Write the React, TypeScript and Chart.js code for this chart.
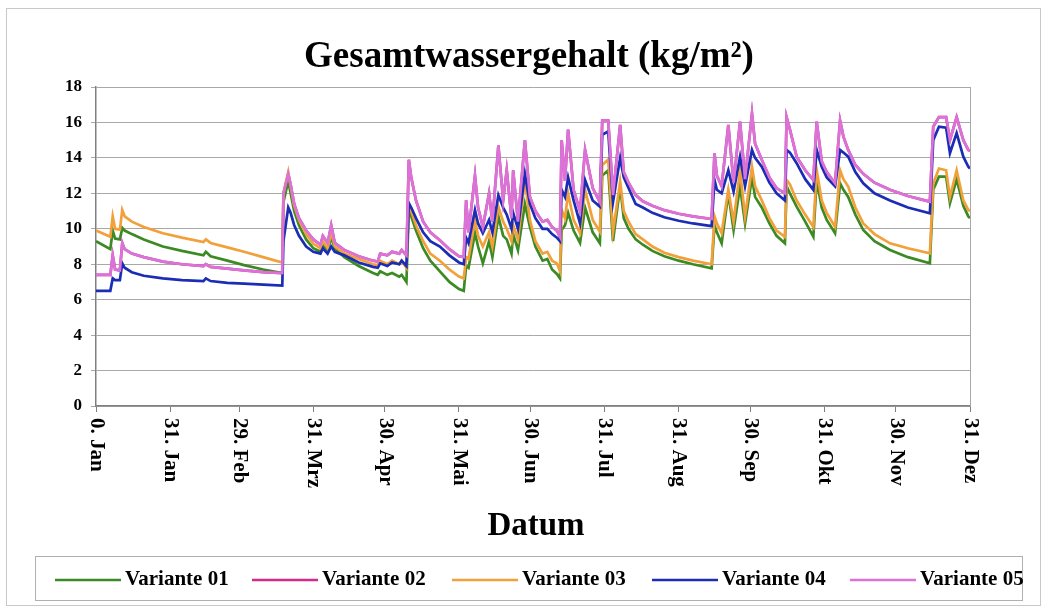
import React, { useEffect, useRef } from "react";
import { Chart, registerables } from "chart.js";

Chart.register(...registerables);

// Tage seit 0. Jan (Schaltjahr, 366 Tage)
const days = [
  0, 6, 7, 8, 10, 11, 12, 15, 20, 28,
  36, 45, 46, 48, 55, 62, 70, 78, 78.5, 80.5,
  81.5, 83, 85, 88, 91, 94, 95, 97, 98.5, 100,
  104, 110, 116, 118, 119, 122, 124, 127, 128, 130,
  131, 132, 134, 137, 140, 144, 148, 152, 154, 155,
  156, 158.7, 160, 162, 164.6, 166, 168.5, 170.5, 172, 174,
  174.7, 176.7, 179.6, 181.7, 184, 187, 189, 191, 193, 194.3,
  195, 196.4, 197.7, 200, 202.7, 204.8, 208, 211, 212, 214.5,
  216.5, 219.5, 221, 223, 226, 229, 233, 238, 244, 250,
  257.8, 259, 260, 262, 264.8, 267, 269.7, 271.8, 274.7, 276,
  278.8, 282, 285, 288.5, 289.2, 290.6, 293.4, 297, 300.4, 301.8,
  303.9, 306, 309.5, 311.6, 313, 315, 318, 321.3, 326, 332.5,
  340, 349.2, 350.6, 353, 356, 357.6, 360.4, 363.2, 365.3, 366,
];

const variante01 = [
  9.3, 8.85, 9.9, 9.45, 9.4, 10.05, 9.9, 9.7, 9.4, 9.0,
  8.75, 8.5, 8.7, 8.45, 8.2, 7.95, 7.7, 7.5, 11.5, 12.7,
  12.0, 11.0, 10.2, 9.4, 8.9, 8.7, 9.1, 8.8, 9.5, 8.9,
  8.4, 7.9, 7.5, 7.4, 7.6, 7.4, 7.5, 7.3, 7.4, 7.0,
  11.1, 10.7, 9.9, 8.9, 8.2, 7.6, 7.0, 6.6, 6.5, 7.9,
  7.8, 9.76, 9.0, 8.05, 9.3, 8.4, 10.7, 9.6, 9.4, 8.6,
  9.7, 8.8, 11.4, 10.1, 9.0, 8.2, 8.3, 7.7, 7.45, 7.2,
  9.93, 10.2, 10.9, 9.9, 9.2, 11.2, 9.8, 9.18, 13.0, 13.3,
  9.3, 12.4, 10.6, 10.0, 9.4, 9.1, 8.75, 8.45, 8.2, 8.0,
  7.77, 10.2, 9.8, 9.18, 12.0, 9.93, 12.4, 10.3, 12.9, 11.8,
  11.2, 10.3, 9.6, 9.18, 12.4, 12.0, 11.25, 10.4, 9.55, 12.75,
  11.2, 10.5, 9.75, 12.57, 12.2, 11.8, 10.8, 9.93, 9.3, 8.8,
  8.4, 8.05, 12.2, 12.94, 12.94, 11.44, 12.8, 11.3, 10.7, 10.6,
];

const variante02 = [
  7.4, 7.4, 8.5, 7.7, 7.65, 9.2, 8.85, 8.6, 8.4, 8.15,
  8.0, 7.9, 8.0, 7.85, 7.75, 7.65, 7.55, 7.5, 12.0, 13.1,
  12.5, 11.4, 10.6, 9.9, 9.4, 9.1, 9.6, 9.2, 10.2, 9.2,
  8.8, 8.45, 8.2, 8.15, 8.6, 8.5, 8.7, 8.6, 8.8, 8.5,
  13.9, 12.9, 11.6, 10.4, 9.8, 9.35, 8.85, 8.45, 8.4, 11.6,
  9.8, 13.0, 11.2, 10.1, 12.0, 10.4, 14.7, 11.6, 13.3, 10.6,
  13.3, 10.4, 15.0, 11.8, 11.0, 10.4, 10.5, 10.1, 9.9, 9.55,
  15.0, 12.7, 15.6, 12.2, 11.0, 14.45, 12.3, 11.5, 16.1, 16.1,
  11.9, 15.86, 13.2, 12.6, 11.9, 11.55, 11.3, 11.05, 10.85, 10.7,
  10.55, 14.26, 13.0, 12.4, 15.86, 12.6, 16.05, 12.8, 16.5, 14.8,
  13.9, 12.9, 12.3, 12.0, 16.3, 15.6, 14.07, 13.3, 12.75, 16.05,
  13.8, 13.2, 12.57, 16.1, 15.2, 14.45, 13.6, 13.1, 12.6, 12.2,
  11.85, 11.53, 15.76, 16.3, 16.3, 15.0, 16.3, 15.0, 14.45, 14.4,
];

const variante03 = [
  9.9, 9.55, 10.7, 10.0, 9.95, 11.06, 10.7, 10.4, 10.1, 9.75,
  9.5, 9.25, 9.4, 9.2, 8.95, 8.7, 8.4, 8.1, 12.0, 13.2,
  12.4, 11.3, 10.5, 9.7, 9.15, 8.9, 9.3, 8.9, 9.8, 9.0,
  8.6, 8.3, 8.0, 7.95, 8.2, 8.0, 8.2, 8.0, 8.2, 7.8,
  11.3, 11.0, 10.2, 9.3, 8.6, 8.2, 7.7, 7.3, 7.2, 8.4,
  8.3, 10.5, 9.6, 9.0, 9.8, 9.0, 11.25, 10.4, 10.0, 9.3,
  10.2, 9.4, 12.75, 10.5, 9.3, 8.6, 8.7, 8.2, 8.05, 7.6,
  11.06, 10.6, 12.0, 10.5, 9.76, 12.2, 10.5, 9.84, 13.6, 13.9,
  9.84, 12.66, 11.0, 10.4, 9.7, 9.4, 9.0, 8.65, 8.4, 8.2,
  8.0, 10.7, 10.3, 9.75, 12.2, 10.4, 13.3, 10.7, 13.5, 12.4,
  11.6, 10.6, 9.9, 9.55, 12.75, 12.5, 11.6, 10.8, 10.1, 13.3,
  11.6, 10.9, 10.1, 13.3, 12.8, 12.38, 11.2, 10.3, 9.7, 9.18,
  8.9, 8.62, 12.57, 13.4, 13.3, 11.8, 13.3, 11.6, 11.06, 11.0,
];

const variante04 = [
  6.5, 6.5, 7.2, 7.1, 7.1, 8.05, 7.8, 7.55, 7.35, 7.2,
  7.1, 7.05, 7.2, 7.05, 6.95, 6.9, 6.85, 6.8, 9.3, 11.2,
  10.9, 10.2, 9.6, 9.0, 8.7, 8.6, 8.9, 8.6, 9.0, 8.7,
  8.5, 8.1, 7.85, 7.8, 8.05, 7.9, 8.1, 8.0, 8.2, 7.9,
  11.45, 11.2, 10.6, 9.8, 9.3, 9.0, 8.5, 8.1, 8.0, 9.5,
  9.2, 11.06, 10.3, 9.75, 10.5, 9.8, 11.9, 11.2, 10.8, 10.0,
  10.9, 10.0, 13.1, 11.4, 10.6, 10.0, 10.0, 9.7, 9.5, 9.3,
  12.2, 11.8, 12.9, 11.6, 10.3, 12.75, 11.6, 11.25, 15.3, 15.5,
  11.5, 14.0, 12.9, 12.3, 11.4, 11.2, 10.9, 10.65, 10.45, 10.3,
  10.15, 12.75, 12.2, 12.0, 13.3, 12.1, 14.07, 12.4, 14.45, 14.0,
  13.5, 12.6, 12.0, 11.6, 14.45, 14.3, 13.7, 12.8, 12.2, 14.45,
  13.5, 12.9, 12.4, 14.45, 14.3, 14.07, 13.2, 12.57, 12.0, 11.6,
  11.2, 10.87, 15.0, 15.76, 15.7, 14.26, 15.4, 14.07, 13.5, 13.4,
];

const variante05 = [
  7.4, 7.4, 8.5, 7.7, 7.65, 9.2, 8.85, 8.6, 8.4, 8.15,
  8.0, 7.9, 8.0, 7.85, 7.75, 7.65, 7.55, 7.5, 12.0, 13.1,
  12.5, 11.4, 10.6, 9.9, 9.4, 9.1, 9.6, 9.2, 10.2, 9.2,
  8.8, 8.45, 8.2, 8.15, 8.6, 8.5, 8.7, 8.6, 8.8, 8.5,
  13.9, 12.9, 11.6, 10.4, 9.8, 9.35, 8.85, 8.45, 8.4, 11.6,
  9.8, 13.0, 11.2, 10.1, 12.0, 10.4, 14.7, 11.6, 13.3, 10.6,
  13.3, 10.4, 15.0, 11.8, 11.0, 10.4, 10.5, 10.1, 9.9, 9.55,
  15.0, 12.7, 15.6, 12.2, 11.0, 14.45, 12.3, 11.5, 16.1, 16.1,
  11.9, 15.86, 13.2, 12.6, 11.9, 11.55, 11.3, 11.05, 10.85, 10.7,
  10.55, 14.26, 13.0, 12.4, 15.86, 12.6, 16.05, 12.8, 16.5, 14.8,
  13.9, 12.9, 12.3, 12.0, 16.3, 15.6, 14.07, 13.3, 12.75, 16.05,
  13.8, 13.2, 12.57, 16.1, 15.2, 14.45, 13.6, 13.1, 12.6, 12.2,
  11.85, 11.53, 15.76, 16.3, 16.3, 15.0, 16.3, 15.0, 14.45, 14.4,
];

const seriesNames = ["Variante 01", "Variante 02", "Variante 03", "Variante 04", "Variante 05"];
const seriesColors = ["#3B8A24", "#D42A8C", "#F2A03A", "#1C2DB5", "#DA72D8"];

const tickDays = [0, 31, 60, 91, 121, 152, 182, 213, 244, 274, 305, 335, 366];
const tickLabels = [
  "0. Jan", "31. Jan", "29. Feb", "31. Mrz", "30. Apr", "31. Mai", "30. Jun",
  "31. Jul", "31. Aug", "30. Sep", "31. Okt", "30. Nov", "31. Dez",
];

const chartTitle = "Gesamtwassergehalt (kg/m²)";
const xAxisTitle = "Datum";

const FONT = '"Liberation Serif", "Times New Roman", serif';

const decorPlugin = {
  id: "decor",
  beforeDraw(chart: any) {
    const { ctx, width, height } = chart;
    ctx.save();
    ctx.fillStyle = "#ffffff";
    ctx.fillRect(0, 0, width, height);
    ctx.restore();
  },
  beforeDatasetsDraw(chart: any) {
    const { ctx, chartArea: a } = chart;
    ctx.save();
    ctx.strokeStyle = "#A8A8A8";
    ctx.lineWidth = 1;
    ctx.beginPath();
    ctx.moveTo(Math.round(a.right) + 0.5, a.top);
    ctx.lineTo(Math.round(a.right) + 0.5, a.bottom);
    ctx.stroke();
    ctx.restore();
  },
  afterDraw(chart: any) {
    const { ctx, scales } = chart;
    ctx.save();
    ctx.fillStyle = "#000";

    // title
    ctx.font = `bold 37px ${FONT}`;
    ctx.textAlign = "center";
    ctx.textBaseline = "alphabetic";
    ctx.fillText(chartTitle, 529, 67);

    // x tick labels (rotated, reading top to bottom)
    ctx.font = `bold 21px ${FONT}`;
    tickDays.forEach((d, i) => {
      const x = scales.x.getPixelForValue(d);
      ctx.save();
      ctx.translate(x, 418);
      ctx.rotate(Math.PI / 2);
      ctx.textAlign = "left";
      ctx.textBaseline = "middle";
      ctx.fillText(tickLabels[i], 0, 0);
      ctx.restore();
    });

    // axis title
    ctx.font = `bold 33px ${FONT}`;
    ctx.textAlign = "center";
    ctx.textBaseline = "alphabetic";
    ctx.fillText(xAxisTitle, 536, 535);

    // legend
    ctx.strokeStyle = "#B0B0B0";
    ctx.lineWidth = 1;
    ctx.strokeRect(35.5, 556.5, 987, 44);
    const starts = [55, 252, 452, 652, 850];
    ctx.font = `bold 21px ${FONT}`;
    ctx.textAlign = "left";
    ctx.textBaseline = "middle";
    chart.data.datasets.forEach((ds: any, i: number) => {
      const x0 = starts[i];
      ctx.strokeStyle = ds.borderColor;
      ctx.lineWidth = 2.5;
      ctx.beginPath();
      ctx.moveTo(x0, 580);
      ctx.lineTo(x0 + 66, 580);
      ctx.stroke();
      ctx.fillStyle = "#000";
      ctx.fillText(ds.label, x0 + 70, 580);
    });

    // outer frame
    ctx.strokeStyle = "#C8C8C8";
    ctx.lineWidth = 1;
    ctx.strokeRect(6.5, 8.5, 1034, 597);
    ctx.restore();
  },
};

export default function App() {
  const canvasRef = useRef<HTMLCanvasElement>(null);

  useEffect(() => {
    const series = [variante01, variante02, variante03, variante04, variante05];
    const chart = new Chart(canvasRef.current as HTMLCanvasElement, {
      type: "line",
      data: {
        datasets: series.map((vals, i) => ({
          label: seriesNames[i],
          data: days.map((d, j) => ({ x: d, y: vals[j] })),
          borderColor: seriesColors[i],
          backgroundColor: seriesColors[i],
          borderWidth: 2.7,
          pointRadius: 0,
          tension: 0,
          fill: false,
          order: 4 - i,
        })),
      },
      options: {
        responsive: false,
        animation: false,
        events: [],
        layout: { padding: { top: 87, right: 78, left: 0, bottom: 0 } },
        plugins: {
          legend: { display: false },
          title: { display: false },
          tooltip: { enabled: false },
        },
        scales: {
          x: {
            type: "linear",
            min: 0,
            max: 366,
            afterBuildTicks: (scale: any) => {
              scale.ticks = tickDays.map((v) => ({ value: v }));
            },
            afterFit: (scale: any) => {
              scale.height = 206;
            },
            ticks: { display: false },
            grid: { drawOnChartArea: false, drawTicks: true, tickLength: 6, color: "#808080" },
            border: { color: "#808080", width: 1.5 },
          },
          y: {
            min: 0,
            max: 18,
            afterFit: (scale: any) => {
              scale.width = 96;
            },
            ticks: {
              stepSize: 2,
              color: "#000",
              padding: 9,
              font: { family: FONT, weight: "bold", size: 17 },
            },
            grid: { color: "#A8A8A8", lineWidth: 1, tickLength: 5 },
            border: { color: "#808080", width: 1.5 },
          },
        },
      },
      plugins: [decorPlugin],
    } as any);
    return () => chart.destroy();
  }, []);

  return (
    <div style={{ position: "absolute", left: 0, top: 0, width: 1048, height: 612, background: "#fff" }}>
      <canvas ref={canvasRef} width={1048} height={612} style={{ display: "block" }} />
    </div>
  );
}
